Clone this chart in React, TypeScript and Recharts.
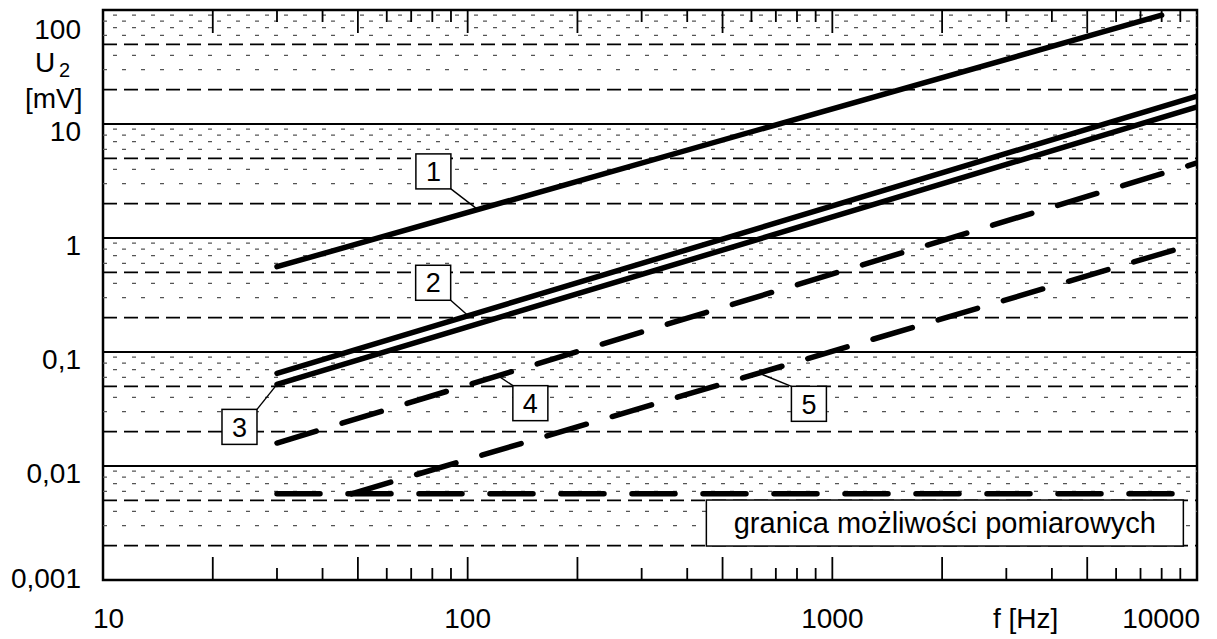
import React from 'react';
import { LineChart, Line, XAxis, YAxis, ReferenceLine, ReferenceArea, ReferenceDot, Label } from 'recharts';

// U2 [mV] vs f [Hz], log-log
const curve1 = [{ f: 30, u: 0.56 }, { f: 8000, u: 90 }];
const curve2 = [{ f: 30, u: 0.065 }, { f: 10000, u: 17.6 }];
const curve3 = [{ f: 30, u: 0.052 }, { f: 10000, u: 14.1 }];
const curve4 = [{ f: 30, u: 0.0159 }, { f: 10000, u: 4.55 }];
const curve5 = [{ f: 48, u: 0.0057 }, { f: 10000, u: 0.9 }];
const limitLine = [{ f: 30, u: 0.0057 }, { f: 10000, u: 0.0057 }];

const xTicks = [
  10, 20, 30, 40, 50, 60, 70, 80, 90,
  100, 200, 300, 400, 500, 600, 700, 800, 900,
  1000, 2000, 3000, 4000, 5000, 6000, 7000, 8000, 9000, 10000,
];
const xLongTicks = [20, 50, 100, 200, 500, 1000, 2000, 5000];
const xLabelValues = [10, 100, 1000, 10000];
const xLabels = ['10', '100', '1000', '10000'];

const yTicks = [0.001, 0.01, 0.1, 1, 10, 100];
const yLabels = ['0,001', '0,01', '0,1', '1', '10', '100'];

const decadeLines = [0.01, 0.1, 1, 10];
const halfLines = [0.002, 0.005, 0.02, 0.05, 0.2, 0.5, 2, 5, 20, 50];
const minorLines = [
  0.003, 0.004, 0.006, 0.007, 0.008, 0.009,
  0.03, 0.04, 0.06, 0.07, 0.08, 0.09,
  0.3, 0.4, 0.6, 0.7, 0.8, 0.9,
  3, 4, 6, 7, 8, 9,
  30, 40, 60, 70, 80, 90,
];

// callouts: anchor point on a curve + box offset
const callouts = [
  { text: '1', f: 106, u: 1.8, dx: -26, dy: -20, corner: 'br' },
  { text: '2', f: 100, u: 0.21, dx: -17, dy: -15, corner: 'br' },
  { text: '3', f: 30, u: 0.052, dx: -20, dy: 25, corner: 'tr' },
  { text: '4', f: 121, u: 0.062, dx: 15, dy: 10, corner: 'tl' },
  { text: '5', f: 631, u: 0.065, dx: 32, dy: 13, corner: 'tl' },
];
const limitText = 'granica możliwości pomiarowych';

const W = 1209;
const H = 631;
const M = { top: 2, right: 20, bottom: 9, left: 10 };
const Y_AXIS_W = 85;
const X_AXIS_H = 50;
const PLOT_TOP = M.top;
const PLOT_H = H - M.top - M.bottom - X_AXIS_H;
const FONT = '"Liberation Sans", Arial, sans-serif';

const XTick = (props: any) => {
  const { x, y, payload } = props;
  const v = payload.value;
  const li = xLabelValues.indexOf(v);
  const len = xLongTicks.includes(v) ? 23 : 12;
  const edge = v === 10 || v === 10000;
  let anchor = 'middle';
  let tx = x;
  if (v === 10) { anchor = 'start'; tx = x - 10; }
  if (v === 10000) { anchor = 'end'; tx = x + 3; }
  return (
    <g>
      {!edge && <line x1={x} x2={x} y1={y} y2={y - len} stroke="#000" strokeWidth={1.8} />}
      {!edge && <line x1={x} x2={x} y1={y - PLOT_H} y2={y - PLOT_H + len} stroke="#000" strokeWidth={1.8} />}
      {li >= 0 && (
        <text x={tx} y={y + 48} textAnchor={anchor} fontSize={28} fontFamily={FONT} fill="#000">
          {xLabels[li]}
        </text>
      )}
    </g>
  );
};

const YTick = (props: any) => {
  const { x, y, payload } = props;
  const i = yTicks.indexOf(payload.value);
  const cy = Math.min(Math.max(y + 7, PLOT_TOP + 19), PLOT_TOP + PLOT_H - 2);
  return (
    <text x={x - 22} y={cy} dy="0.36em" textAnchor="end" fontSize={28} fontFamily={FONT} fill="#000">
      {yLabels[i]}
    </text>
  );
};

const YTitle = (props: any) => {
  const vb = props.viewBox || { x: M.left, y: PLOT_TOP };
  const x0 = vb.x;
  const y0 = vb.y;
  return (
    <g fontFamily={FONT} fill="#000">
      <text x={x0 + 17} y={y0 + 62} fontSize={28}>U</text>
      <text x={x0 + 41} y={y0 + 67} fontSize={20}>2</text>
      <text x={x0 + 7} y={y0 + 98} fontSize={28}>[mV]</text>
    </g>
  );
};

const XTitle = (props: any) => {
  const vb = props.viewBox || { x: M.left + Y_AXIS_W, y: PLOT_TOP + PLOT_H };
  return (
    <text x={vb.x + 890} y={vb.y + 48} fontSize={28} fontFamily={FONT} fill="#000">
      f [Hz]
    </text>
  );
};

const makeCallout = (c: any) => (props: any) => {
  const { cx, cy } = props;
  const s = 35;
  const px = cx + c.dx;
  const py = cy + c.dy;
  let bx = px;
  let by = py;
  if (c.corner === 'br') { bx = px - s; by = py - s; }
  if (c.corner === 'tr') { bx = px - s; by = py; }
  return (
    <g>
      <line x1={cx} y1={cy} x2={px} y2={py} stroke="#000" strokeWidth={1.4} />
      <rect x={bx} y={by} width={s} height={s} fill="#fff" stroke="#000" strokeWidth={1.5} />
      <text x={bx + s / 2} y={by + s / 2} dy="0.36em" textAnchor="middle" fontSize={27} fontFamily={FONT} fill="#000">
        {c.text}
      </text>
    </g>
  );
};

const LimitBox = (props: any) => {
  const { cx, cy } = props;
  const w = 477;
  const h = 46;
  return (
    <g>
      <rect x={cx - w / 2} y={cy - h / 2} width={w} height={h} fill="#fff" stroke="#000" strokeWidth={1.5} />
      <text x={cx} y={cy} dy="0.36em" textAnchor="middle" fontSize={29} fontFamily={FONT} fill="#000">
        {limitText}
      </text>
    </g>
  );
};

export default function App() {
  return (
    <div style={{ width: W, height: H }}>
      <LineChart width={W} height={H} margin={M}>
        <XAxis
          xAxisId={0}
          dataKey="f"
          type="number"
          scale="log"
          domain={[10, 10000]}
          ticks={xTicks}
          interval={0}
          allowDataOverflow
          tickLine={false}
          axisLine={false}
          tickSize={0}
          tickMargin={0}
          height={X_AXIS_H}
          tick={<XTick />}
        >
          <Label content={<XTitle />} />
        </XAxis>
        <YAxis
          yAxisId={0}
          type="number"
          scale="log"
          domain={[0.001, 100]}
          ticks={yTicks}
          interval={0}
          allowDataOverflow
          tickLine={false}
          axisLine={false}
          tickSize={0}
          tickMargin={0}
          width={Y_AXIS_W}
          tick={<YTick />}
        >
          <Label content={<YTitle />} />
        </YAxis>

        {minorLines.map((v, i) => (
          <ReferenceLine
            key={'m' + v}
            y={v}
            stroke="#555"
            strokeWidth={1.3}
            strokeDasharray="4 15"
            strokeDashoffset={i % 2 === 0 ? 0 : 9}
          />
        ))}
        {halfLines.map((v) => (
          <ReferenceLine key={'h' + v} y={v} stroke="#000" strokeWidth={1.8} strokeDasharray="14 7" />
        ))}
        {decadeLines.map((v) => (
          <ReferenceLine key={'d' + v} y={v} stroke="#000" strokeWidth={2} />
        ))}
        <ReferenceArea x1={10} x2={10000} y1={0.001} y2={100} fill="none" stroke="#000" strokeWidth={2.5} ifOverflow="visible" />

        <Line data={curve1} dataKey="u" stroke="#000" strokeWidth={5.5} strokeLinecap="round" dot={false} isAnimationActive={false} />
        <Line data={curve2} dataKey="u" stroke="#000" strokeWidth={5.5} strokeLinecap="round" dot={false} isAnimationActive={false} />
        <Line data={curve3} dataKey="u" stroke="#000" strokeWidth={5.5} strokeLinecap="round" dot={false} isAnimationActive={false} />
        <Line data={curve4} dataKey="u" stroke="#000" strokeWidth={5.5} strokeLinecap="round" strokeDasharray="41 27" dot={false} isAnimationActive={false} />
        <Line data={curve5} dataKey="u" stroke="#000" strokeWidth={5.5} strokeLinecap="round" strokeDasharray="41 27" dot={false} isAnimationActive={false} />
        <Line data={limitLine} dataKey="u" stroke="#000" strokeWidth={5.5} strokeLinecap="round" strokeDasharray="43 28" dot={false} isAnimationActive={false} />

        {callouts.map((c) => (
          <ReferenceDot key={c.text} x={c.f} y={c.u} r={0} shape={makeCallout(c)} />
        ))}
        <ReferenceDot x={2035} y={0.00316} r={0} shape={LimitBox} />
      </LineChart>
    </div>
  );
}
